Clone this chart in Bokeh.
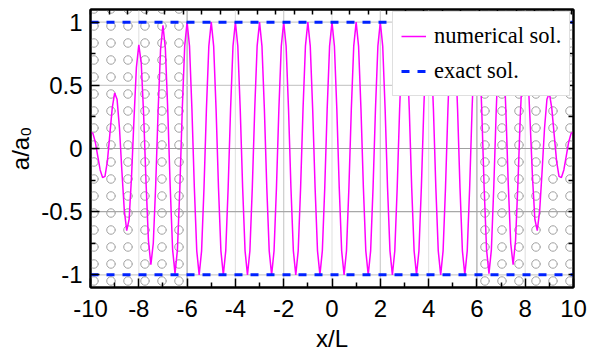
import numpy as np
from bokeh.plotting import figure
from bokeh.models import (Range1d, LinearAxis, FixedTicker, Span, Legend, LegendItem)
from bokeh.embed import file_html
from bokeh.resources import INLINE

# ---------------- data ----------------
x_start = -10.0
x_step = 0.1
numerical = [
    # x = -10.0 ... -6.1 (absorbing layer, left)
    0.13, 0.12, 0.05, -0.06, -0.17, -0.23, -0.22, -0.10, 0.11, 0.32,
    0.44, 0.39, 0.16, -0.18, -0.49, -0.65, -0.56, -0.22, 0.23, 0.64,
    0.82, 0.68, 0.27, -0.27, -0.73, -0.92, -0.75, -0.29, 0.30, 0.78,
    0.975, 0.79, 0.30, -0.30, -0.80, -0.99, -0.80, -0.31, 0.31, 0.81,
    # x = -6.0 ... 6.0 (physical region)
    1.0, 0.81, 0.31, -0.31, -0.81, -1.0, -0.81, -0.31, 0.31, 0.81,
    1.0, 0.81, 0.31, -0.31, -0.81, -1.0, -0.81, -0.31, 0.31, 0.81,
    1.0, 0.81, 0.31, -0.31, -0.81, -1.0, -0.81, -0.31, 0.31, 0.81,
    1.0, 0.81, 0.31, -0.31, -0.81, -1.0, -0.81, -0.31, 0.31, 0.81,
    1.0, 0.81, 0.31, -0.31, -0.81, -1.0, -0.81, -0.31, 0.31, 0.81,
    1.0, 0.81, 0.31, -0.31, -0.81, -1.0, -0.81, -0.31, 0.31, 0.81,
    1.0, 0.81, 0.31, -0.31, -0.81, -1.0, -0.81, -0.31, 0.31, 0.81,
    1.0, 0.81, 0.31, -0.31, -0.81, -1.0, -0.81, -0.31, 0.31, 0.81,
    1.0, 0.81, 0.31, -0.31, -0.81, -1.0, -0.81, -0.31, 0.31, 0.81,
    1.0, 0.81, 0.31, -0.31, -0.81, -1.0, -0.81, -0.31, 0.31, 0.81,
    1.0, 0.81, 0.31, -0.31, -0.81, -1.0, -0.81, -0.31, 0.31, 0.81,
    1.0, 0.81, 0.31, -0.31, -0.81, -1.0, -0.81, -0.31, 0.31, 0.81,
    1.0,
    # x = 6.1 ... 10.0 (absorbing layer, right)
    0.81, 0.31, -0.31, -0.80, -0.99, -0.80, -0.30, 0.30, 0.79, 0.975,
    0.78, 0.30, -0.29, -0.75, -0.92, -0.73, -0.27, 0.27, 0.68, 0.82,
    0.64, 0.23, -0.22, -0.56, -0.65, -0.49, -0.18, 0.16, 0.39, 0.44,
    0.32, 0.11, -0.10, -0.22, -0.23, -0.17, -0.06, 0.05, 0.12, 0.13,
]
exact_x = [-10, 10]
exact_upper = [1, 1]
exact_lower = [-1, -1]
absorb_left = [-10, 6]
absorb_right = [-6, 10]
x_ticks = [-10, -8, -6, -4, -2, 0, 2, 4, 6, 8, 10]
x_minor = [-9, -7, -5, -3, -1, 1, 3, 5, 7, 9]
y_ticks = [-1, -0.5, 0, 0.5, 1]
y_minor = [-0.75, -0.25, 0.25, 0.75]
x_tick_labels = ["-10", "-8", "-6", "-4", "-2", "0", "2", "4", "6", "8", "10"]
y_tick_labels = ["-1", "-0.5", "0", "0.5", "1"]

x = np.round(x_start + x_step * np.arange(len(numerical)), 2)

# ---------------- figure ----------------
p = figure(width=590, height=359,
           x_range=Range1d(-10, 10), y_range=Range1d(-1.1, 1.1),
           output_backend="svg", toolbar_location=None,
           min_border_left=90, min_border_right=17,
           min_border_top=9, min_border_bottom=72)
p.xgrid.visible = False
p.ygrid.visible = False
p.outline_line_color = "black"
p.outline_line_width = 2
p.background_fill_color = "white"
p.border_fill_color = "white"

# absorbing regions (circle pattern)
p.quad(left=absorb_left, right=absorb_right, bottom=-1.1, top=1.1,
       fill_color=None, line_color=None, hatch_pattern="ring",
       hatch_color="#a0a0a0", hatch_scale=17, hatch_weight=1, level="underlay")

# grid lines
vcol = {-8: "#e4e4e4", -6: "#a8a8a8", -4: "#e4e4e4", -2: "#cccccc", 0: "#e4e4e4",
        2: "#cccccc", 4: "#e4e4e4", 6: "#a8a8a8", 8: "#e4e4e4"}
for xv in x_ticks[1:-1]:
    p.add_layout(Span(location=xv, dimension="height", line_color=vcol[xv],
                      line_width=1.2, level="underlay"))
hcol = {-1: "#cccccc", -0.5: "#a8a8a8", 0: "#a0a0a0", 0.5: "#cccccc", 1: "#cccccc"}
for yv in y_ticks:
    p.add_layout(Span(location=yv, dimension="width", line_color=hcol[yv],
                      line_width=1.2, level="underlay"))

num = p.line(x, numerical, line_color="#ff00ff", line_width=1.5)
ex1 = p.line(exact_x, exact_upper, line_color="#0022ff", line_width=3, line_dash="8 8")
ex2 = p.line(exact_x, exact_lower, line_color="#0022ff", line_width=3, line_dash="8 8")

FONT = "Liberation Sans"

def style_axis(ax, major, minor, labels):
    ax.ticker = FixedTicker(ticks=major, minor_ticks=minor)
    ax.axis_line_width = 2
    ax.axis_line_color = "black"
    ax.major_tick_in = 9
    ax.major_tick_out = 0
    ax.minor_tick_in = 5
    ax.minor_tick_out = 0
    ax.major_tick_line_width = 1.5
    ax.minor_tick_line_width = 1.5
    ax.major_tick_line_color = "black"
    ax.minor_tick_line_color = "black"
    if labels is None:
        ax.major_label_text_color = None
        ax.major_label_text_font_size = "1px"
        ax.major_label_standoff = 0
    else:
        ax.major_label_overrides = {float(t): s for t, s in zip(major, labels)}
        ax.major_label_text_font = FONT
        ax.major_label_text_font_size = "24px"
        ax.major_label_text_color = "black"

xa = p.xaxis[0]
style_axis(xa, x_ticks, x_minor, x_tick_labels)
xa.major_label_standoff = 12
xa.axis_label = "x/L"
xa.axis_label_text_font = FONT
xa.axis_label_text_font_size = "24px"
xa.axis_label_text_font_style = "normal"
xa.axis_label_text_color = "black"
xa.axis_label_standoff = 5

ya = p.yaxis[0]
style_axis(ya, y_ticks, y_minor, y_tick_labels)
ya.major_label_standoff = 8
ya.axis_label = "a/a\u2080"
ya.axis_label_text_font = FONT
ya.axis_label_text_font_size = "24px"
ya.axis_label_text_font_style = "normal"
ya.axis_label_text_color = "black"
ya.axis_label_standoff = 4

# top axis (unlabelled ticks)
p.extra_x_ranges = {"top": Range1d(0, 26.1)}
top = LinearAxis(x_range_name="top")
style_axis(top, list(range(27)), [], None)
top.major_tick_in = 5
p.add_layout(top, "above")

right = LinearAxis()
style_axis(right, y_ticks, y_minor, None)
right.major_tick_in = 5
p.add_layout(right, "right")

legend = Legend(items=[LegendItem(label="numerical sol.", renderers=[num]),
                       LegendItem(label="exact sol.", renderers=[ex1])],
                location=(302, 191))
legend.label_text_font = "Liberation Serif"
legend.label_text_font_size = "22.5px"
legend.label_text_color = "black"
legend.glyph_width = 25
legend.glyph_height = 32
legend.label_height = 32
legend.label_standoff = 8
legend.spacing = 3
legend.padding = 8
legend.margin = 0
legend.background_fill_color = "white"
legend.background_fill_alpha = 1.0
legend.border_line_color = "#c0c0c0"
legend.border_line_width = 1
p.add_layout(legend, "center")

open("out.html", "w").write(file_html(p, INLINE))
